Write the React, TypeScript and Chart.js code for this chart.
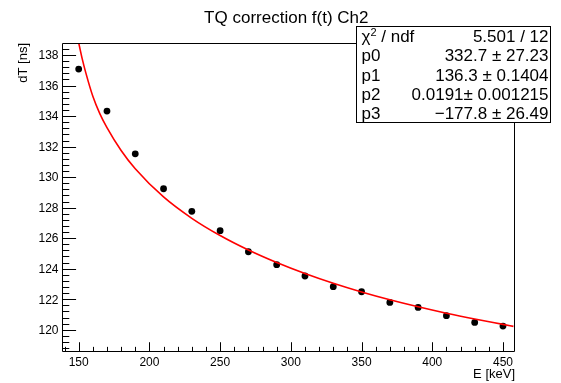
import { useEffect, useRef } from "react";
import { Chart, registerables } from "chart.js";

Chart.register(...registerables);

// Measured data points (E [keV], dT [ns])
const energies = [150, 170, 190, 210, 230, 250, 270, 290, 310, 330, 350, 370, 390, 410, 430, 450];
const dTValues = [137.08, 134.33, 131.53, 129.24, 127.76, 126.49, 125.11, 124.26, 123.52, 122.82, 122.49, 121.79, 121.46, 120.92, 120.48, 120.24];

// Fit curve
const fitEnergies = [148, 150, 152.5, 155, 160, 165, 170, 180, 190, 210, 230, 250, 270, 290, 310, 330, 350, 370, 390, 410, 430, 450, 457.4];
const fitValues = [139.6, 138.8, 137.75, 136.85, 135.3, 134.15, 133.25, 131.75, 130.55, 128.7, 127.3, 126.17, 125.22, 124.4, 123.68, 123.04, 122.47, 121.96, 121.5, 121.08, 120.7, 120.35, 120.22];

// Axes
const xRange = [138.2, 458.5];
const yRange = [118.54, 138.79];
const xMajorTicks = [150, 200, 250, 300, 350, 400, 450];
const xMinorStep = 10;
const yMajorTicks = [120, 122, 124, 126, 128, 130, 132, 134, 136, 138];
const yMinorStep = 0.4;

const titleText = "TQ correction f(t) Ch2";
const xTitle = "E [keV]";
const yTitle = "dT [ns]";

// Stats box
const statLabels = ["χ2 / ndf", "p0", "p1", "p2", "p3"];
const statValues = ["5.501 / 12", "332.7 ± 27.23", "136.3 ± 0.1404", "0.0191± 0.001215", "−177.8 ± 26.49"];

const FONT = '"Liberation Sans", Arial, Helvetica, sans-serif';

const rootStylePlugin = {
  id: "rootStyle",
  afterDraw(chart: any) {
    const ctx = chart.ctx as CanvasRenderingContext2D;
    const { left, top, right, bottom } = chart.chartArea;
    const xs = chart.scales.x;
    const ys = chart.scales.y;
    ctx.save();
    ctx.strokeStyle = "#000";
    ctx.fillStyle = "#000";
    ctx.lineWidth = 1;

    const L = Math.round(left) + 0.5;
    const R = Math.round(right) - 0.5;
    const T = Math.round(top) + 0.5;
    const B = Math.round(bottom) - 0.5;

    // frame
    ctx.beginPath();
    ctx.rect(L, T, R - L, B - T);
    ctx.stroke();

    const frameH = bottom - top;
    const frameW = right - left;
    const xMajLen = 0.03 * frameH;
    const yMajLen = 0.03 * frameW;

    // x ticks
    ctx.beginPath();
    const xMinStart = Math.ceil(xRange[0] / xMinorStep) * xMinorStep;
    for (let v = xMinStart; v <= xRange[1] + 1e-9; v += xMinorStep) {
      const isMajor = xMajorTicks.includes(Math.round(v));
      const px = Math.round(xs.getPixelForValue(v)) + 0.5;
      const len = isMajor ? xMajLen : xMajLen / 2;
      ctx.moveTo(px, B);
      ctx.lineTo(px, B - len);
    }
    // y ticks
    const yMinStart = Math.ceil(yRange[0] / yMinorStep - 1e-9);
    for (let k = yMinStart; k * yMinorStep <= yRange[1] + 1e-9; k++) {
      const v = Math.round(k * yMinorStep * 1000) / 1000;
      const isMajor = yMajorTicks.some((t) => Math.abs(t - v) < 1e-6);
      const py = Math.round(ys.getPixelForValue(v)) + 0.5;
      const len = isMajor ? yMajLen : yMajLen / 2;
      ctx.moveTo(L, py);
      ctx.lineTo(L + len, py);
    }
    ctx.stroke();

    // tick labels
    ctx.font = `12px ${FONT}`;
    ctx.textAlign = "center";
    ctx.textBaseline = "alphabetic";
    for (const t of xMajorTicks) {
      ctx.fillText(String(t), xs.getPixelForValue(t), 366);
    }
    ctx.textAlign = "right";
    for (const t of yMajorTicks) {
      ctx.fillText(String(t), left - 3.5, ys.getPixelForValue(t) + 4.3);
    }

    // axis titles
    ctx.font = `13px ${FONT}`;
    ctx.textAlign = "right";
    ctx.fillText(xTitle, right, 377.5);
    ctx.save();
    ctx.translate(26.5, top);
    ctx.rotate(-Math.PI / 2);
    ctx.textAlign = "right";
    ctx.fillText(yTitle, 0, 0);
    ctx.restore();

    // title
    ctx.font = `17px ${FONT}`;
    ctx.textAlign = "center";
    ctx.fillText(titleText, 286.3, 22.5);

    // stats box
    const bx = 356.5, by = 26.5, bw = 194, bh = 96;
    ctx.fillStyle = "#fff";
    ctx.fillRect(bx, by, bw, bh);
    ctx.strokeStyle = "#000";
    ctx.strokeRect(bx, by, bw, bh);
    ctx.fillStyle = "#000";
    const rowH = bh / statLabels.length;
    for (let i = 0; i < statLabels.length; i++) {
      const baseY = by + rowH * i + rowH / 2 + 6;
      ctx.font = `17px ${FONT}`;
      ctx.textAlign = "left";
      if (i === 0) {
        ctx.fillText("χ", 361.5, baseY);
        const wChi = ctx.measureText("χ").width;
        ctx.font = `11px ${FONT}`;
        ctx.fillText("2", 361.5 + wChi, baseY - 6.5);
        const w2 = ctx.measureText("2").width;
        ctx.font = `17px ${FONT}`;
        ctx.fillText(" / ndf", 361.5 + wChi + w2, baseY);
      } else {
        ctx.fillText(statLabels[i], 361.5, baseY);
      }
      ctx.textAlign = "right";
      ctx.fillText(statValues[i], 548.5, baseY);
    }

    ctx.restore();
  },
};

export default function App() {
  const canvasRef = useRef<HTMLCanvasElement | null>(null);

  useEffect(() => {
    const canvas = canvasRef.current;
    if (!canvas) return;
    const chart = new Chart(canvas, {
      type: "scatter",
      data: {
        datasets: [
          {
            label: "fit",
            data: fitEnergies.map((e, i) => ({ x: e, y: fitValues[i] })),
            showLine: true,
            borderColor: "#ff0000",
            borderWidth: 1.6,
            pointRadius: 0,
            cubicInterpolationMode: "monotone",
            fill: false,
          } as any,
          {
            label: "data",
            data: energies.map((e, i) => ({ x: e, y: dTValues[i] })),
            showLine: false,
            pointRadius: 3.4,
            pointBackgroundColor: "#000",
            pointBorderWidth: 0,
            backgroundColor: "#000",
            borderColor: "#000",
          } as any,
        ],
      },
      options: {
        animation: false,
        responsive: false,
        devicePixelRatio: 1,
        events: [],
        layout: { padding: { left: 62, top: 43, right: 46, bottom: 31 } },
        plugins: {
          legend: { display: false },
          tooltip: { enabled: false },
          title: { display: false },
        },
        scales: {
          x: { type: "linear", min: xRange[0], max: xRange[1], display: false },
          y: { type: "linear", min: yRange[0], max: yRange[1], display: false },
        },
      },
      plugins: [rootStylePlugin],
    });
    return () => chart.destroy();
  }, []);

  return (
    <div style={{ position: "absolute", left: 0, top: 0, width: 561, height: 383, background: "#fff" }}>
      <canvas ref={canvasRef} width={561} height={383} style={{ display: "block" }} />
    </div>
  );
}
